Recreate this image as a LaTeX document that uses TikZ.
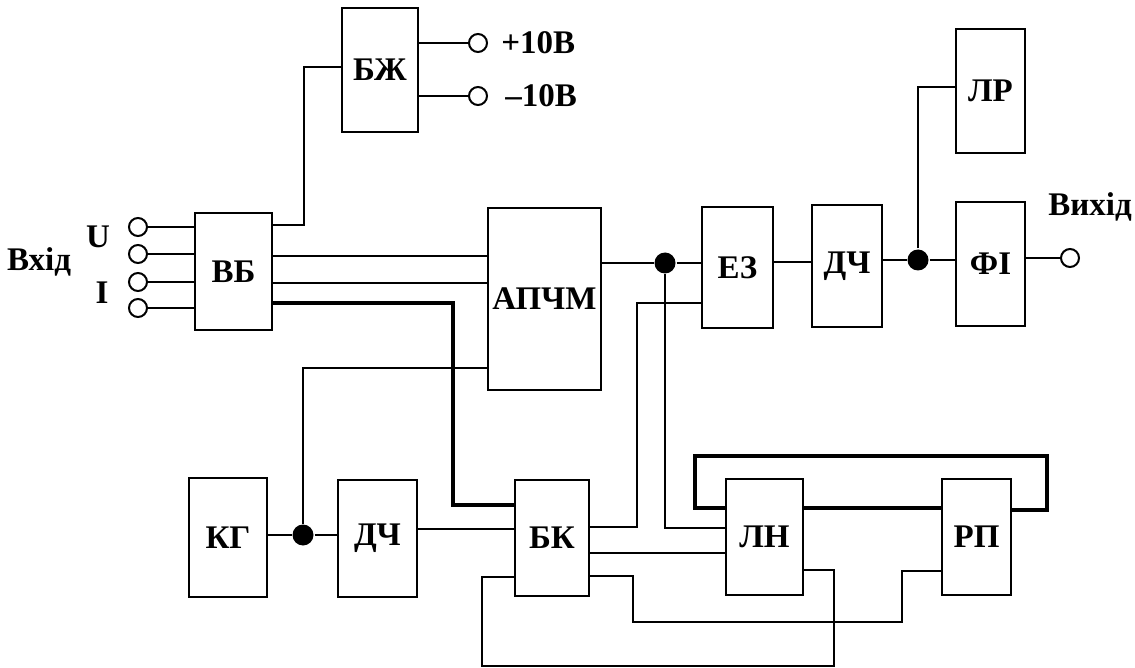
\documentclass[tikz,border=0pt]{standalone}
\usepackage{fontspec}
\setmainfont{Liberation Serif}
\begin{document}
\begin{tikzpicture}[x=1pt,y=-1pt,line width=2pt,
	every node/.style={font=\fontsize{33}{37}\selectfont\bfseries},
	block/.style={draw,rectangle,inner sep=0pt},
	term/.style={draw,circle,fill=white,inner sep=0pt,minimum size=18},
	dot/.style={circle,fill=black,inner sep=0pt,minimum size=21},
	bus/.style={line width=4pt}]
	\useasboundingbox (0,0) rectangle (1135,668);
	% blocks
	\node[block,minimum width=76,minimum height=124] (bzh) at (380,70) {БЖ};
	\node[block,minimum width=77,minimum height=117] (vb) at (233.5,271.5) {ВБ};
	\node[block,minimum width=113,minimum height=182] (apchm) at (544.5,299) {АПЧМ};
	\node[block,minimum width=71,minimum height=121] (ez) at (737.5,267.5) {ЕЗ};
	\node[block,minimum width=70,minimum height=122] (dch1) at (847,266) {ДЧ};
	\node[block,minimum width=69,minimum height=124] (lr) at (990.5,91) {ЛР};
	\node[block,minimum width=69,minimum height=124] (fi) at (990.5,264) {ФІ};
	\node[block,minimum width=78,minimum height=119] (kg) at (228,537.5) {КГ};
	\node[block,minimum width=79,minimum height=117] (dch2) at (377.5,538.5) {ДЧ};
	\node[block,minimum width=74,minimum height=116] (bk) at (552,538) {БК};
	\node[block,minimum width=77,minimum height=116] (ln) at (764.5,537) {ЛН};
	\node[block,minimum width=69,minimum height=116] (rp) at (976.5,537) {РП};
	% terminals and junctions
	\node[term] (tplus) at (478,43) {};
	\node[term] (tminus) at (478,96) {};
	\node[term] (tout) at (1070,258) {};
	\node[dot] (j1) at (665,263) {};
	\node[dot] (j2) at (918,260) {};
	\node[dot] (j3) at (303,535) {};
	\foreach \n/\y in {1/227,2/254,3/282,4/308} {
		\node[term] (in\n) at (138,\y) {};
		\draw (in\n) -- (vb.west |- in\n);
	}
	% labels
	\node[anchor=west] (lplus) at (497,43) {+10В};
	\node[anchor=west] (lminus) at (501,96) {–10В};
	\node (lu) at (98,237) {U};
	\node (li) at (102,293) {I};
	\node (lin) at (39,262) {Вхід};
	\node (lout) at (1090,207) {Вихід};
	% connections
	\draw (vb.east |- 0,225) -| (304,67) -- (bzh.west |- 0,67);
	\draw (bzh.east |- tplus) -- (tplus);
	\draw (bzh.east |- tminus) -- (tminus);
	\draw (vb.east |- 0,256) -- (apchm.west |- 0,256);
	\draw (vb.east |- 0,283) -- (apchm.west |- 0,283);
	\draw[bus] (vb.east |- 0,303) -| (453,505) -- (bk.west |- 0,505);
	\draw (apchm.east |- j1) -- (j1) -- (ez.west |- j1);
	\draw (j1) |- (ln.west |- 0,528);
	\draw (bk.east |- 0,527) -| (637,303) -- (ez.west |- 0,303);
	\draw (kg.east |- j3) -- (j3) -- (dch2.west |- j3);
	\draw (j3) |- (apchm.west |- 0,368);
	\draw (dch2.east |- 0,529) -- (bk.west |- 0,529);
	\draw (bk.east |- 0,553) -- (ln.west |- 0,553);
	\draw (bk.east |- 0,576) -| (633,622) -| (902,571) -- (rp.west |- 0,571);
	\draw (ln.east |- 0,570) -| (834,666) -| (482,577) -- (bk.west |- 0,577);
	\draw[bus] (ln.east |- 0,508) -- (rp.west |- 0,508);
	\draw[bus] (ln.west |- 0,508) -| (695,456) -| (1047,510) -- (rp.east |- 0,510);
	\draw (ez.east |- 0,262) -- (dch1.west |- 0,262);
	\draw (dch1.east |- j2) -- (j2) -- (fi.west |- j2);
	\draw (j2) |- (lr.west |- 0,87);
	\draw (fi.east |- tout) -- (tout);
\end{tikzpicture}
\end{document}
